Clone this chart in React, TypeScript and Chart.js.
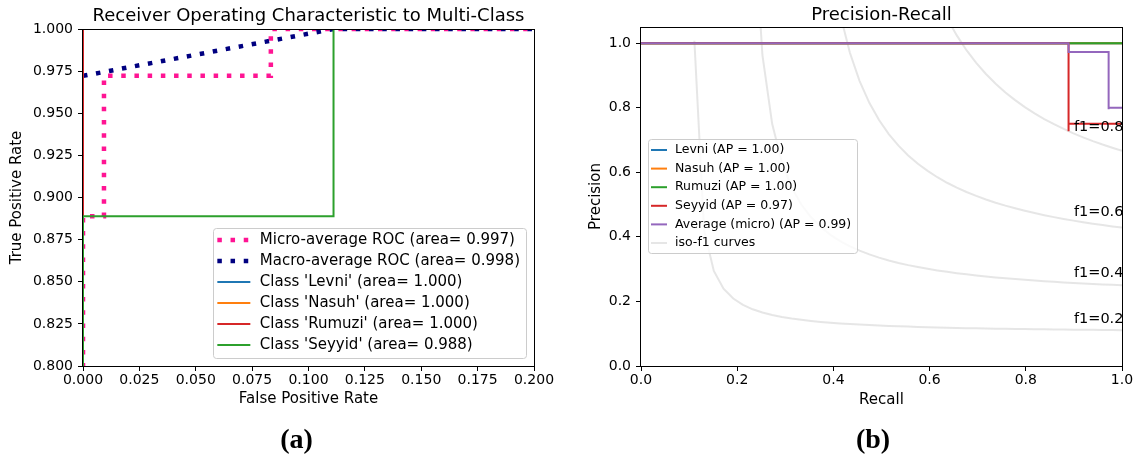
import React, { useEffect, useRef } from "react";
import Chart from "chart.js/auto";

const FONT = "'DejaVu Sans', 'Liberation Sans', sans-serif";

// ---------------- (a) ROC ----------------
const rocTitle = "Receiver Operating Characteristic to Multi-Class";
const rocXLabel = "False Positive Rate";
const rocYLabel = "True Positive Rate";
const rocXTicks = [0, 0.025, 0.05, 0.075, 0.1, 0.125, 0.15, 0.175, 0.2];
const rocYTicks = [0.8, 0.825, 0.85, 0.875, 0.9, 0.925, 0.95, 0.975, 1.0];
const rocLabels = [
  "Micro-average ROC (area= 0.997)",
  "Macro-average ROC (area= 0.998)",
  "Class 'Levni' (area= 1.000)",
  "Class 'Nasuh' (area= 1.000)",
  "Class 'Rumuzi' (area= 1.000)",
  "Class 'Seyyid' (area= 0.988)",
];
const microFpr = [0, 0, 0.0093, 0.0093, 0.0833, 0.0833, 1];
const microTpr = [0, 0.8889, 0.8889, 0.9722, 0.9722, 1, 1];
const macroFpr = [0, 0.1111, 1];
const macroTpr = [0.9722, 1, 1];
const levniFpr = [0, 0, 1];
const levniTpr = [0, 1, 1];
const nasuhFpr = [0, 0, 1];
const nasuhTpr = [0, 1, 1];
const rumuziFpr = [0, 0, 1];
const rumuziTpr = [0, 1, 1];
const seyyidFpr = [0, 0, 0.1111, 0.1111, 1];
const seyyidTpr = [0, 0.8889, 0.8889, 1, 1];

// ---------------- (b) Precision-Recall ----------------
const prTitle = "Precision-Recall";
const prXLabel = "Recall";
const prYLabel = "Precision";
const prXTicks = [0, 0.2, 0.4, 0.6, 0.8, 1.0];
const prYTicks = [0, 0.2, 0.4, 0.6, 0.8, 1.0];
const prLabels = [
  "Levni (AP = 1.00)",
  "Nasuh (AP = 1.00)",
  "Rumuzi (AP = 1.00)",
  "Seyyid (AP = 0.97)",
  "Average (micro) (AP = 0.99)",
  "iso-f1 curves",
];
const levniRecall = [1, 0];
const levniPrecision = [1, 1];
const nasuhRecall = [1, 0];
const nasuhPrecision = [1, 1];
const rumuziRecall = [1, 0];
const rumuziPrecision = [1, 1];
const seyyidRecall = [1, 0.8889, 0.8889, 0];
const seyyidPrecision = [0.75, 0.7273, 1, 1];
const microRecall = [1, 0.9722, 0.9722, 0.8889, 0.8889, 0];
const microPrecision = [0.8, 0.7955, 0.9722, 0.9697, 1, 1];

const isoRecall = [
  0.01, 0.0302, 0.0504, 0.0706, 0.0908, 0.111, 0.1312, 0.1514, 0.1716, 0.1918,
  0.212, 0.2322, 0.2524, 0.2727, 0.2929, 0.3131, 0.3333, 0.3535, 0.3737, 0.3939,
  0.4141, 0.4343, 0.4545, 0.4747, 0.4949, 0.5151, 0.5353, 0.5555, 0.5757, 0.5959,
  0.6161, 0.6363, 0.6565, 0.6767, 0.6969, 0.7171, 0.7373, 0.7576, 0.7778, 0.798,
  0.8182, 0.8384, 0.8586, 0.8788, 0.899, 0.9192, 0.9394, 0.9596, 0.9798, 1.0,
];
// precision values of each iso-f1 curve (valid tail of the recall grid)
const isoF02 = [
  1.0073, 0.4205, 0.2946, 0.2397, 0.2089, 0.1893, 0.1756, 0.1656, 0.1579, 0.1518,
  0.1469, 0.1429, 0.1394, 0.1365, 0.134, 0.1318, 0.1299, 0.1282, 0.1267, 0.1253,
  0.1241, 0.123, 0.122, 0.121, 0.1202, 0.1194, 0.1186, 0.118, 0.1173, 0.1168,
  0.1162, 0.1157, 0.1152, 0.1148, 0.1143, 0.1139, 0.1135, 0.1132, 0.1128, 0.1125,
  0.1122, 0.1119, 0.1116, 0.1114, 0.1111,
];
const isoF04 = [
  3.533, 1.442, 0.9634, 0.7502, 0.6306, 0.5537, 0.5001, 0.4606, 0.4303, 0.4063,
  0.3868, 0.3707, 0.3572, 0.3456, 0.3356, 0.3269, 0.3193, 0.3125, 0.3065, 0.301,
  0.2961, 0.2917, 0.2876, 0.2839, 0.2805, 0.2774, 0.2744, 0.2717, 0.2692, 0.2669,
  0.2647, 0.2627, 0.2607, 0.2589, 0.2572, 0.2556, 0.2541, 0.2527, 0.2513, 0.25,
];
const isoF06 = [
  7.17, 3.003, 1.982, 1.521, 1.258, 1.089, 0.9701, 0.8825, 0.8152, 0.7618,
  0.7184, 0.6825, 0.6523, 0.6264, 0.6042, 0.5847, 0.5676, 0.5525, 0.5389, 0.5268,
  0.5158, 0.5058, 0.4967, 0.4884, 0.4807, 0.4737, 0.4672, 0.4611, 0.4555, 0.4503,
  0.4454, 0.4408, 0.4365, 0.4324, 0.4286,
];
const isoF08 = [
  11.75, 5.065, 3.336, 2.542, 2.086, 1.79, 1.583, 1.429, 1.311, 1.217,
  1.14, 1.077, 1.024, 0.9782, 0.9389, 0.9046, 0.8744, 0.8474, 0.8235, 0.802,
  0.7826, 0.765, 0.7489, 0.7342, 0.7206, 0.7082, 0.6966, 0.6859, 0.676, 0.6667,
];
const isoNoteText = ["f1=0.2", "f1=0.4", "f1=0.6", "f1=0.8"];
const isoNoteX = [0.9, 0.9, 0.9, 0.9];
const isoNoteY = [0.132, 0.276, 0.465, 0.728];

// ---------------- helpers ----------------
const pts = (xs: number[], ys: number[]) => ys.map((y, i) => ({ x: xs[i], y }));
const tailPts = (xs: number[], ys: number[]) =>
  ys.map((y, i) => ({ x: xs[xs.length - ys.length + i], y }));

const lineBase = {
  pointRadius: 0,
  pointHoverRadius: 0,
  fill: false,
  tension: 0,
  clip: 0,
  borderCapStyle: "butt",
  borderJoinStyle: "miter",
};

const decorPlugin = {
  id: "decor",
  afterDatasetsDraw(chart: any, _args: any, opts: any) {
    const { ctx, chartArea: a } = chart;
    ctx.save();
    // spines
    ctx.strokeStyle = "#000";
    ctx.lineWidth = 1;
    ctx.setLineDash([]);
    ctx.strokeRect(a.left - 0.5, a.top + 0.5, a.right - a.left + 1, a.bottom - a.top);
    // title
    ctx.fillStyle = "#000";
    ctx.font = `18px ${FONT}`;
    ctx.textAlign = "center";
    ctx.textBaseline = "alphabetic";
    ctx.fillText(opts.title, (a.left + a.right) / 2, a.top - opts.titleGap);
    // annotations
    if (opts.notes) {
      const xs = chart.scales.x;
      const ys = chart.scales.y;
      ctx.font = `14.5px ${FONT}`;
      ctx.textAlign = "left";
      opts.notes.text.forEach((t: string, i: number) => {
        ctx.fillText(t, xs.getPixelForValue(opts.notes.x[i]), ys.getPixelForValue(opts.notes.y[i]));
      });
    }
    // legend
    const L = opts.legend;
    ctx.font = `${L.fontSize}px ${FONT}`;
    const items = chart.data.datasets.filter((d: any) => d.label);
    const textW = Math.max(...items.map((d: any) => ctx.measureText(d.label).width));
    const w = L.textX + textW + L.padRight;
    const h = L.padTop + (items.length - 1) * L.rowH + L.padBottom;
    const x0 = L.anchor === "br" ? a.right - L.dx - w : a.left + L.dx;
    const y0 = L.anchor === "br" ? a.bottom - L.dy - h : a.top + L.dy;
    ctx.beginPath();
    ctx.roundRect(Math.round(x0) + 0.5, Math.round(y0) + 0.5, Math.round(w), Math.round(h), 3);
    ctx.fillStyle = "rgba(255,255,255,0.8)";
    ctx.fill();
    ctx.strokeStyle = "#cccccc";
    ctx.lineWidth = 1;
    ctx.stroke();
    ctx.textAlign = "left";
    ctx.textBaseline = "middle";
    items.forEach((d: any, i: number) => {
      const cy = y0 + L.padTop + i * L.rowH;
      ctx.beginPath();
      ctx.setLineDash(d.borderDash || []);
      ctx.lineWidth = d.borderWidth;
      ctx.strokeStyle = d.borderColor;
      ctx.lineCap = "butt";
      ctx.moveTo(x0 + L.sampleX, cy);
      ctx.lineTo(x0 + L.sampleX + L.sampleLen, cy);
      ctx.stroke();
      ctx.setLineDash([]);
      ctx.fillStyle = "#000";
      ctx.fillText(d.label, x0 + L.textX, cy);
    });
    ctx.restore();
  },
};

function axis(
  min: number,
  max: number,
  tickVals: number[],
  decimals: number,
  title: string,
  isX: boolean,
  size: number,
  titlePad: number,
  tickPad: number
) {
  return {
    type: "linear",
    min,
    max,
    afterBuildTicks: (s: any) => {
      s.ticks = tickVals.map((v) => ({ value: v }));
    },
    afterFit: (s: any) => {
      if (isX) s.height = size;
      else s.width = size;
    },
    ticks: {
      callback: (v: any) => Number(v).toFixed(decimals),
      font: { family: FONT, size: 14 },
      color: "#000",
      padding: tickPad,
      autoSkip: false,
      maxRotation: 0,
      minRotation: 0,
    },
    grid: {
      drawOnChartArea: false,
      drawTicks: true,
      tickLength: 5,
      tickColor: "#000",
      tickWidth: 1,
    },
    border: { display: false },
    title: {
      display: true,
      text: title,
      font: { family: FONT, size: 15 },
      color: "#000",
      padding: isX ? { top: 0, bottom: titlePad } : { top: titlePad, bottom: 0 },
    },
  };
}

function rocConfig(): any {
  const dotted = { borderWidth: 4.5, borderDash: [4.5, 8.7] };
  return {
    type: "line",
    data: {
      datasets: [
        { ...lineBase, ...dotted, label: rocLabels[0], data: pts(microFpr, microTpr), borderColor: "#ff1493", order: 6 },
        { ...lineBase, ...dotted, label: rocLabels[1], data: pts(macroFpr, macroTpr), borderColor: "#000080", order: 5 },
        { ...lineBase, borderWidth: 2, label: rocLabels[2], data: pts(levniFpr, levniTpr), borderColor: "#1f77b4", order: 4 },
        { ...lineBase, borderWidth: 2, label: rocLabels[3], data: pts(nasuhFpr, nasuhTpr), borderColor: "#ff7f0e", order: 3 },
        { ...lineBase, borderWidth: 2, label: rocLabels[4], data: pts(rumuziFpr, rumuziTpr), borderColor: "#d62728", order: 2 },
        { ...lineBase, borderWidth: 2, label: rocLabels[5], data: pts(seyyidFpr, seyyidTpr), borderColor: "#2ca02c", order: 1 },
      ],
    },
    options: {
      animation: false,
      responsive: false,
      events: [],
      layout: { autoPadding: false, padding: { top: 29, right: 34, bottom: 0, left: 0 } },
      plugins: {
        legend: { display: false },
        tooltip: { enabled: false },
        title: { display: false },
        decor: {
          title: rocTitle,
          titleGap: 8,
          legend: {
            anchor: "br", dx: 8, dy: 8, fontSize: 15, rowH: 21, padTop: 12, padBottom: 13,
            sampleX: 4.5, sampleLen: 33, textX: 47, padRight: 6,
          },
        },
      },
      scales: {
        x: axis(0, 0.2, rocXTicks, 3, rocXLabel, true, 93, 51, 1),
        y: axis(0.8, 1.0, rocYTicks, 3, rocYLabel, false, 83, 8, 5),
      },
    },
    plugins: [decorPlugin],
  };
}

function prConfig(): any {
  const pr = { ...lineBase, borderWidth: 2, stepped: true };
  const iso = { ...lineBase, borderWidth: 2, borderColor: "rgba(128,128,128,0.2)", order: 10 };
  return {
    type: "line",
    data: {
      datasets: [
        { ...pr, label: prLabels[0], data: pts(levniRecall, levniPrecision), borderColor: "#1f77b4", order: 6 },
        { ...pr, label: prLabels[1], data: pts(nasuhRecall, nasuhPrecision), borderColor: "#ff7f0e", order: 5 },
        { ...pr, label: prLabels[2], data: pts(rumuziRecall, rumuziPrecision), borderColor: "#2ca02c", order: 4 },
        { ...pr, label: prLabels[3], data: pts(seyyidRecall, seyyidPrecision), borderColor: "#d62728", order: 3 },
        { ...pr, label: prLabels[4], data: pts(microRecall, microPrecision), borderColor: "#9467bd", order: 2 },
        { ...iso, label: prLabels[5], data: tailPts(isoRecall, isoF02) },
        { ...iso, label: "", data: tailPts(isoRecall, isoF04) },
        { ...iso, label: "", data: tailPts(isoRecall, isoF06) },
        { ...iso, label: "", data: tailPts(isoRecall, isoF08) },
      ],
    },
    options: {
      animation: false,
      responsive: false,
      events: [],
      layout: { autoPadding: false, padding: { top: 27, right: 15, bottom: 0, left: 0 } },
      plugins: {
        legend: { display: false },
        tooltip: { enabled: false },
        title: { display: false },
        decor: {
          title: prTitle,
          titleGap: 7,
          notes: { text: isoNoteText, x: isoNoteX, y: isoNoteY },
          legend: {
            anchor: "tl", dx: 6.5, dy: 112, fontSize: 12.5, rowH: 18.6, padTop: 11, padBottom: 10,
            sampleX: 3.5, sampleLen: 16, textX: 27.5, padRight: 5,
          },
        },
      },
      scales: {
        x: axis(0, 1.0, prXTicks, 1, prXLabel, true, 93, 50, 1),
        y: axis(0, 1.05, prYTicks, 1, prYLabel, false, 73, 19.4, 5),
      },
    },
    plugins: [decorPlugin],
  };
}

const caption = (cx: number): React.CSSProperties => ({
  position: "absolute",
  left: cx - 50,
  width: 100,
  top: 425,
  textAlign: "center",
  fontFamily: "'Liberation Serif', 'Times New Roman', serif",
  fontWeight: "bold",
  fontSize: 28,
  lineHeight: "28px",
  color: "#000",
});

export default function App() {
  const rocRef = useRef<HTMLCanvasElement>(null);
  const prRef = useRef<HTMLCanvasElement>(null);
  useEffect(() => {
    const c1 = new Chart(rocRef.current as HTMLCanvasElement, rocConfig());
    const c2 = new Chart(prRef.current as HTMLCanvasElement, prConfig());
    return () => {
      c1.destroy();
      c2.destroy();
    };
  }, []);
  return (
    <div
      style={{
        position: "absolute",
        left: 0,
        top: 0,
        width: 1137,
        height: 459,
        background: "#fff",
        overflow: "hidden",
      }}
    >
      <canvas
        ref={rocRef}
        width={568}
        height={459}
        style={{ position: "absolute", left: 0, top: 0, width: 568, height: 459 }}
      />
      <canvas
        ref={prRef}
        width={569}
        height={459}
        style={{ position: "absolute", left: 568, top: 0, width: 569, height: 459 }}
      />
      <div style={caption(296.5)}>(a)</div>
      <div style={caption(873)}>(b)</div>
    </div>
  );
}
